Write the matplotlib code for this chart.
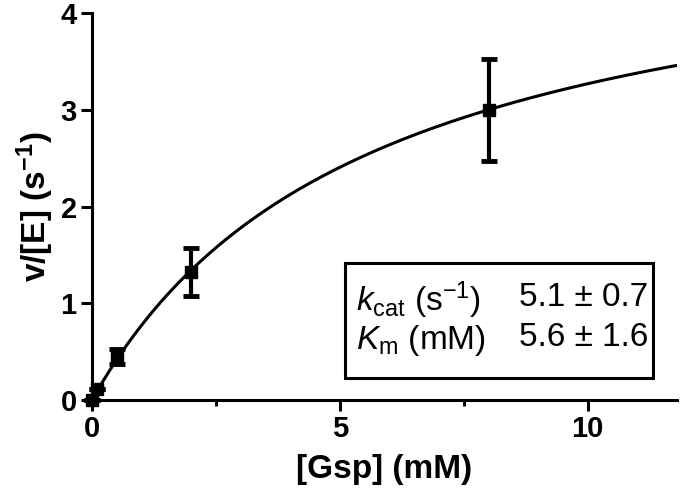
import numpy as np
import matplotlib
matplotlib.use("Agg")
import matplotlib.pyplot as plt
from matplotlib.patches import Rectangle
from matplotlib.ticker import MultipleLocator

plt.rcParams['font.family'] = ['Liberation Sans', 'DejaVu Sans']
plt.rcParams['mathtext.fontset'] = 'custom'
plt.rcParams['mathtext.rm'] = 'Liberation Sans'
plt.rcParams['mathtext.it'] = 'Liberation Sans:italic'
plt.rcParams['mathtext.bf'] = 'Liberation Sans:bold'

# data
gsp = [0.0, 0.1, 0.5, 2.0, 8.0]
rate = [0.0, 0.11, 0.45, 1.32, 3.0]
err_lo = [0.0, 0.0, 0.08, 0.24, 0.53]
err_hi = [0.0, 0.0, 0.08, 0.25, 0.52]
kcat = 5.1
kcat_err = 0.7
Km = 5.6
Km_err = 1.6
xticks = [0, 5, 10]
yticks = [0, 1, 2, 3, 4]

fig = plt.figure(figsize=(6.8, 5), dpi=100)
ax = fig.add_axes([92/680, 0.2, (677-92)/680, (400-13)/500])

xs = np.linspace(0, 11.8, 300)
ax.plot(xs, kcat*xs/(Km+xs), color='black', lw=2.2, zorder=2)
ax.errorbar(gsp, rate, yerr=[err_lo, err_hi], fmt='s', color='black',
            ms=8.5, elinewidth=3, capsize=5.5, capthick=3.5, zorder=3, clip_on=False)

ax.set_xlim(0, 11.8)
ax.set_ylim(0, 4)
ax.set_xticks(xticks)
ax.set_yticks(yticks)
ax.xaxis.set_minor_locator(MultipleLocator(2.5))
for s in ['top', 'right']:
    ax.spines[s].set_visible(False)
for s in ['left', 'bottom']:
    ax.spines[s].set_linewidth(2.2)
ax.tick_params(which='major', width=2.2, length=8, labelsize=21, pad=3)
ax.tick_params(which='minor', width=2.2, length=4)
for lab in ax.get_xticklabels() + ax.get_yticklabels():
    lab.set_fontweight('bold')

ax.set_xlabel('[Gsp] (mM)', fontsize=24, fontweight='bold', labelpad=8)
ax.set_ylabel(r'v/[E] (s$^{\mathbf{-1}}$)', fontsize=24, fontweight='bold', labelpad=3)

# parameter box
x0, x1 = (345-92)/585, (653-92)/585
y0, y1 = (400-378)/387, (400-263)/387
ax.add_patch(Rectangle((x0, y0), x1-x0, y1-y0, transform=ax.transAxes,
                       fill=True, facecolor='white', edgecolor='black', lw=2.2, zorder=4))
ax.text((356-92)/585, (400-300)/387, r'$k_{\mathrm{cat}}$ (s$^{-1}$)', transform=ax.transAxes,
        fontsize=24, va='center', ha='left', zorder=5)
ax.text((356-92)/585, (400-340)/387, r'$K_{\mathrm{m}}$ (mM)', transform=ax.transAxes,
        fontsize=24, va='center', ha='left', zorder=5)
ax.text((519-92)/585, (400-298)/387, f'{kcat} \u00b1 {kcat_err}', transform=ax.transAxes,
        fontsize=24, va='center', ha='left', zorder=5)
ax.text((519-92)/585, (400-338)/387, f'{Km} \u00b1 {Km_err}', transform=ax.transAxes,
        fontsize=24, va='center', ha='left', zorder=5)

fig.savefig('out.png', dpi=100)
